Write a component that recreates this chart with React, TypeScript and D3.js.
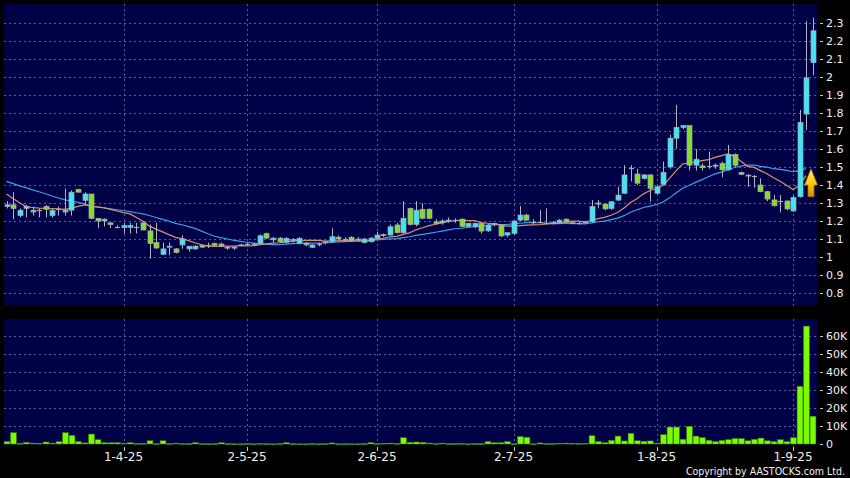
import React from "react";
import * as d3 from "d3";

// ---- Data ----
// Daily candles, index 0 = first visible trading day; last = 4 Sep 2025
const opens = [
  1.28, 1.29, 1.23, 1.27, 1.26, 1.26, 1.28, 1.23, 1.265, 1.26,
  1.26, 1.375, 1.315, 1.35, 1.215, 1.2, 1.19, 1.167, 1.163, 1.165,
  1.167, 1.19, 1.145, 1.08, 1.015, 1.055, 1.045, 1.067, 1.045, 1.045,
  1.065, 1.067, 1.075, 1.072, 1.05, 1.05, 1.065, 1.07, 1.07, 1.076,
  1.13, 1.095, 1.105, 1.082, 1.09, 1.076, 1.076, 1.054, 1.07, 1.08,
  1.085, 1.11, 1.1, 1.11, 1.095, 1.08, 1.085, 1.104, 1.12, 1.122,
  1.178, 1.135, 1.27, 1.18, 1.265, 1.265, 1.195, 1.19, 1.2, 1.205,
  1.21, 1.17, 1.168, 1.187, 1.145, 1.18, 1.178, 1.122, 1.131, 1.205,
  1.233, 1.196, 1.196, 1.19, 1.19, 1.19, 1.21, 1.19, 1.19, 1.19,
  1.196, 1.294, 1.294, 1.27, 1.316, 1.354, 1.493, 1.461, 1.437, 1.456,
  1.354, 1.404, 1.5, 1.66, 1.72, 1.73, 1.51, 1.506, 1.506, 1.505,
  1.52, 1.484, 1.57, 1.469, 1.455, 1.45, 1.4, 1.363, 1.317, 1.311,
  1.311, 1.256, 1.335, 1.794, 2.08,
];
const highs = [
  1.31, 1.36, 1.27, 1.29, 1.28, 1.27, 1.29, 1.27, 1.28, 1.38,
  1.37, 1.38, 1.36, 1.35, 1.215, 1.215, 1.19, 1.175, 1.19, 1.19,
  1.19, 1.19, 1.18, 1.19, 1.08, 1.08, 1.05, 1.12, 1.06, 1.065,
  1.07, 1.08, 1.08, 1.08, 1.06, 1.06, 1.075, 1.08, 1.08, 1.125,
  1.135, 1.11, 1.11, 1.11, 1.105, 1.11, 1.08, 1.07, 1.08, 1.09,
  1.16, 1.12, 1.11, 1.115, 1.11, 1.105, 1.11, 1.14, 1.13, 1.18,
  1.19, 1.31, 1.275, 1.31, 1.3, 1.27, 1.21, 1.21, 1.22, 1.215,
  1.215, 1.19, 1.19, 1.19, 1.185, 1.19, 1.18, 1.135, 1.2, 1.283,
  1.24, 1.21, 1.26, 1.27, 1.2, 1.21, 1.215, 1.2, 1.2, 1.2,
  1.316, 1.316, 1.3, 1.31, 1.39, 1.51, 1.51, 1.49, 1.46, 1.46,
  1.4, 1.53, 1.68, 1.845, 1.73, 1.73, 1.6, 1.52, 1.585, 1.52,
  1.53, 1.622, 1.575, 1.475, 1.46, 1.455, 1.437, 1.365, 1.345, 1.344,
  1.315, 1.34, 1.817, 2.31, 2.33,
];
const lows = [
  1.27, 1.21, 1.22, 1.22, 1.23, 1.22, 1.22, 1.22, 1.23, 1.23,
  1.23, 1.36, 1.29, 1.21, 1.16, 1.17, 1.16, 1.16, 1.13, 1.13,
  1.13, 1.15, 0.99, 1.045, 1.01, 1.01, 1.02, 1.045, 1.03, 1.04,
  1.05, 1.05, 1.06, 1.055, 1.04, 1.04, 1.06, 1.06, 1.06, 1.07,
  1.1, 1.08, 1.08, 1.075, 1.08, 1.07, 1.06, 1.05, 1.06, 1.07,
  1.08, 1.09, 1.09, 1.085, 1.085, 1.075, 1.08, 1.1, 1.11, 1.12,
  1.13, 1.13, 1.175, 1.17, 1.21, 1.21, 1.18, 1.18, 1.19, 1.19,
  1.165, 1.165, 1.16, 1.13, 1.14, 1.17, 1.11, 1.11, 1.125, 1.2,
  1.2, 1.18, 1.19, 1.18, 1.18, 1.185, 1.19, 1.185, 1.18, 1.185,
  1.19, 1.27, 1.26, 1.26, 1.31, 1.35, 1.42, 1.4, 1.43, 1.307,
  1.35, 1.4, 1.49, 1.6, 1.71, 1.48, 1.48, 1.48, 1.49, 1.49,
  1.443, 1.48, 1.5, 1.455, 1.39, 1.385, 1.36, 1.31, 1.28, 1.248,
  1.26, 1.25, 1.33, 1.706, 2.01,
];
const closes = [
  1.29, 1.27, 1.26, 1.28, 1.25, 1.26, 1.265, 1.26, 1.265, 1.25,
  1.36, 1.36, 1.35, 1.215, 1.2, 1.21, 1.18, 1.167, 1.175, 1.175,
  1.167, 1.15, 1.075, 1.05, 1.045, 1.06, 1.025, 1.1, 1.06, 1.06,
  1.055, 1.067, 1.065, 1.06, 1.055, 1.055, 1.067, 1.07, 1.072, 1.118,
  1.105, 1.105, 1.085, 1.104, 1.098, 1.104, 1.067, 1.067, 1.07, 1.085,
  1.113, 1.1, 1.1, 1.09, 1.1, 1.1, 1.105, 1.122, 1.125, 1.168,
  1.135, 1.215, 1.18, 1.26, 1.215, 1.215, 1.185, 1.2, 1.205, 1.205,
  1.17, 1.187, 1.187, 1.144, 1.178, 1.187, 1.117, 1.135, 1.2, 1.233,
  1.205, 1.196, 1.196, 1.19, 1.192, 1.205, 1.192, 1.192, 1.19, 1.195,
  1.28, 1.3, 1.267, 1.307, 1.344, 1.456, 1.493, 1.41, 1.456, 1.381,
  1.39, 1.47, 1.66, 1.72, 1.73, 1.51, 1.543, 1.496, 1.506, 1.51,
  1.484, 1.57, 1.51, 1.459, 1.45, 1.45, 1.363, 1.322, 1.285, 1.311,
  1.267, 1.33, 1.748, 1.995, 2.257,
];
// closes of the 19 sessions before the visible window (only feed the moving averages)
const priorCloses = [
  1.52, 1.5, 1.48, 1.5, 1.47, 1.49, 1.51, 1.48, 1.47, 1.48,
  1.52, 1.5, 1.49, 1.3, 1.29, 1.28, 1.27, 1.29, 1.27,
];
// volume in thousands of shares
const volumes = [
  1.3, 6.3, 0.3, 0.9, 0.5, 0.4, 1.1, 0.5, 1.3, 6.3,
  4.8, 1.3, 0.6, 5.5, 2.4, 0.7, 0.7, 0.7, 0.4, 0.7,
  0.3, 0.3, 1.8, 0.2, 1.8, 0.2, 0.5, 0.2, 0.2, 0.7,
  0.2, 0.1, 0.2, 0.7, 0.2, 0.1, 0.1, 0.2, 0.1, 0.3,
  0.2, 0.1, 0.2, 0.7, 0.2, 0.1, 0.1, 0.2, 0.1, 0.2,
  0.6, 0.1, 0.2, 0.1, 0.1, 0.2, 0.7, 0.2, 0.4, 0.5,
  0.3, 3.5, 0.9, 1.1, 0.9, 0.5, 0.2, 0.5, 0.2, 0.2,
  0.3, 0.1, 0.2, 0.2, 1.3, 0.7, 0.7, 1.3, 0.1, 4.1,
  3.7, 0.1, 0.6, 0.2, 0.3, 0.4, 0.5, 0.4, 0.3, 0.4,
  4.6, 1.3, 0.7, 2.0, 4.4, 1.7, 5.9, 1.8, 1.5, 1.7,
  0.5, 5.2, 9.4, 9.4, 2.6, 9.8, 4.4, 3.5, 2.0, 1.3,
  2.0, 2.4, 3.0, 3.0, 1.8, 2.6, 3.3, 1.8, 1.3, 2.4,
  1.3, 3.5, 32, 65.5, 15.4,
];
const dateTickIndex = [18, 37, 57, 78, 100, 121];
const dateTickLabels = ["1-4-25", "2-5-25", "2-6-25", "2-7-25", "1-8-25", "1-9-25"];
const priceTicks = [0.8, 0.9, 1, 1.1, 1.2, 1.3, 1.4, 1.5, 1.6, 1.7, 1.8, 1.9, 2, 2.1, 2.2, 2.3];
const volumeTicks = [0, 10, 20, 30, 40, 50, 60];
const maShort = 10;
const maLong = 20;
const maLastIndex = 123;

// ---- Styles ----
const BG = "#000000";
const PANEL = "#000046";
const GRID = "#5c5c96";
const UP = "#3ee6f2";
const DOWN = "#86dc2a";
const EDGE = "#a8a8b8";
const WICK = "#b4b4c0";
const VOL = "#7cfc00";
const VOL_EDGE = "#3f8a00";
const MA_S = "#dc9068";
const MA_L = "#3c9ee6";
const TEXT = "#f0f0f0";
const FONT = "DejaVu Sans, Verdana, sans-serif";

export default function App() {
  const W = 850;
  const H = 478;
  const left = 4;
  const right = 817;
  const pTop = 4;
  const pBottom = 306;
  const vTop = 319;
  const vBottom = 444;

  const n = closes.length;
  const x = d3.scaleLinear().domain([0, n - 1]).range([6.5, 812.5]);
  const y = d3.scaleLinear().domain([0.8, 2.3]).range([293, 23]);
  const yv = d3.scaleLinear().domain([0, 60]).range([444, 336]);

  const all = [...priorCloses, ...closes];
  const off = priorCloses.length;
  const sma = (p: number) =>
    closes.map((_, i) => {
      const end = i + off;
      const start = end - p + 1;
      if (start < 0) return null;
      return d3.mean(all.slice(start, end + 1)) as number;
    });
  const maS = sma(maShort);
  const maL = sma(maLong);
  const line = d3
    .line<[number, number | null]>()
    .defined((d) => d[1] != null)
    .x((d) => x(d[0]))
    .y((d) => y(d[1] as number));
  const toPts = (arr: (number | null)[]) =>
    arr.slice(0, maLastIndex + 1).map((v, i) => [i, v] as [number, number | null]);

  const bodyW = 5;
  const volW = 5.8;

  const ax = x(n - 1) - 1.5;
  const aTip = y(1.49);
  const aBase = y(1.40);
  const aBottom = y(1.335);

  return (
    <svg width={W} height={H} style={{ display: "block", background: BG, position: "absolute", left: 0, top: 0 }}>
      <defs>
        <linearGradient id="arrowGrad" x1="0" y1="0" x2="0" y2="1">
          <stop offset="0%" stopColor="#fff25a" />
          <stop offset="55%" stopColor="#ffc800" />
          <stop offset="100%" stopColor="#d88a00" />
        </linearGradient>
        <clipPath id="priceClip">
          <rect x={left} y={pTop} width={right - left} height={pBottom - pTop} />
        </clipPath>
      </defs>
      <rect x={0} y={0} width={W} height={H} fill={BG} />
      <rect x={left} y={pTop} width={right - left} height={pBottom - pTop} fill={PANEL} />
      <rect x={left} y={vTop} width={right - left} height={vBottom - vTop} fill={PANEL} />

      {priceTicks.map((t) => (
        <line key={"pg" + t} x1={left} x2={right} y1={Math.round(y(t)) + 0.5} y2={Math.round(y(t)) + 0.5}
          stroke={GRID} strokeWidth={1} strokeDasharray="2,3" />
      ))}
      {dateTickIndex.map((d) => (
        <line key={"pv" + d} x1={Math.round(x(d)) + 0.5} x2={Math.round(x(d)) + 0.5} y1={pTop} y2={pBottom}
          stroke={GRID} strokeWidth={1} strokeDasharray="2,3" />
      ))}
      {volumeTicks.filter((t) => t > 0).map((t) => (
        <line key={"vg" + t} x1={left} x2={right} y1={Math.round(yv(t)) + 0.5} y2={Math.round(yv(t)) + 0.5}
          stroke={GRID} strokeWidth={1} strokeDasharray="2,3" />
      ))}
      {dateTickIndex.map((d) => (
        <line key={"vv" + d} x1={Math.round(x(d)) + 0.5} x2={Math.round(x(d)) + 0.5} y1={vTop} y2={vBottom}
          stroke={GRID} strokeWidth={1} strokeDasharray="2,3" />
      ))}

      <g clipPath="url(#priceClip)">
        <path d={line(toPts(maL)) || ""} fill="none" stroke={MA_L} strokeWidth={1.2} />
        <path d={line(toPts(maS)) || ""} fill="none" stroke={MA_S} strokeWidth={1.2} />
      </g>

      {closes.map((c, i) => {
        const o = opens[i];
        const cx = Math.round(x(i));
        const up = c >= o;
        const top = y(Math.max(o, c));
        const bot = y(Math.min(o, c));
        const h = Math.max(1, bot - top);
        const doji = Math.abs(c - o) < 0.002;
        return (
          <g key={"c" + i}>
            <line x1={cx + 0.5} x2={cx + 0.5} y1={y(highs[i])} y2={y(lows[i])} stroke={WICK} strokeWidth={1} />
            {doji ? (
              <line x1={cx - 2} x2={cx + 3} y1={Math.round(top) + 0.5} y2={Math.round(top) + 0.5} stroke={EDGE} strokeWidth={1.2} />
            ) : (
              <rect x={cx - 2} y={top} width={bodyW} height={h} fill={up ? UP : DOWN} stroke={EDGE} strokeWidth={0.7} />
            )}
          </g>
        );
      })}

      <path
        d={`M${ax},${aTip} L${ax + 6.5},${aBase} L${ax + 3},${aBase} L${ax + 3},${aBottom} L${ax - 3},${aBottom} L${ax - 3},${aBase} L${ax - 6.5},${aBase} Z`}
        fill="url(#arrowGrad)" stroke="#b07000" strokeWidth={0.7}
      />

      {volumes.map((v, i) => {
        const top = yv(v);
        return (
          <rect key={"v" + i} x={x(i) - volW / 2 + 0.5} y={top} width={volW} height={Math.max(0.8, vBottom - top)}
            fill={VOL} stroke={VOL_EDGE} strokeWidth={0.5} />
        );
      })}

      {priceTicks.map((t) => (
        <g key={"pl" + t}>
          <line x1={820} x2={823} y1={Math.round(y(t)) + 0.5} y2={Math.round(y(t)) + 0.5} stroke="#c8c8c8" />
          <text x={826} y={y(t)} dy="0.36em" fill={TEXT} fontSize={11} fontFamily={FONT}>
            {String(+t.toFixed(1))}
          </text>
        </g>
      ))}
      {volumeTicks.map((t) => (
        <g key={"vl" + t}>
          <line x1={820} x2={823} y1={Math.round(yv(t)) + 0.5} y2={Math.round(yv(t)) + 0.5} stroke="#c8c8c8" />
          <text x={826} y={yv(t)} dy="0.36em" fill={TEXT} fontSize={11} fontFamily={FONT}>
            {t === 0 ? "0" : t + "K"}
          </text>
        </g>
      ))}

      {dateTickIndex.map((d, k) => (
        <g key={"dt" + d}>
          <line x1={Math.round(x(d)) + 0.5} x2={Math.round(x(d)) + 0.5} y1={447} y2={451} stroke="#c8c8c8" />
          <text x={x(d)} y={461} textAnchor="middle" fill={TEXT} fontSize={12} fontFamily={FONT}>
            {dateTickLabels[k]}
          </text>
        </g>
      ))}

      <text x={845} y={475} textAnchor="end" fill={TEXT} fontSize={10.5}
        fontFamily="DejaVu Sans Condensed, Liberation Sans Narrow, DejaVu Sans, sans-serif">
        Copyright by AASTOCKS.com Ltd.
      </text>
    </svg>
  );
}
